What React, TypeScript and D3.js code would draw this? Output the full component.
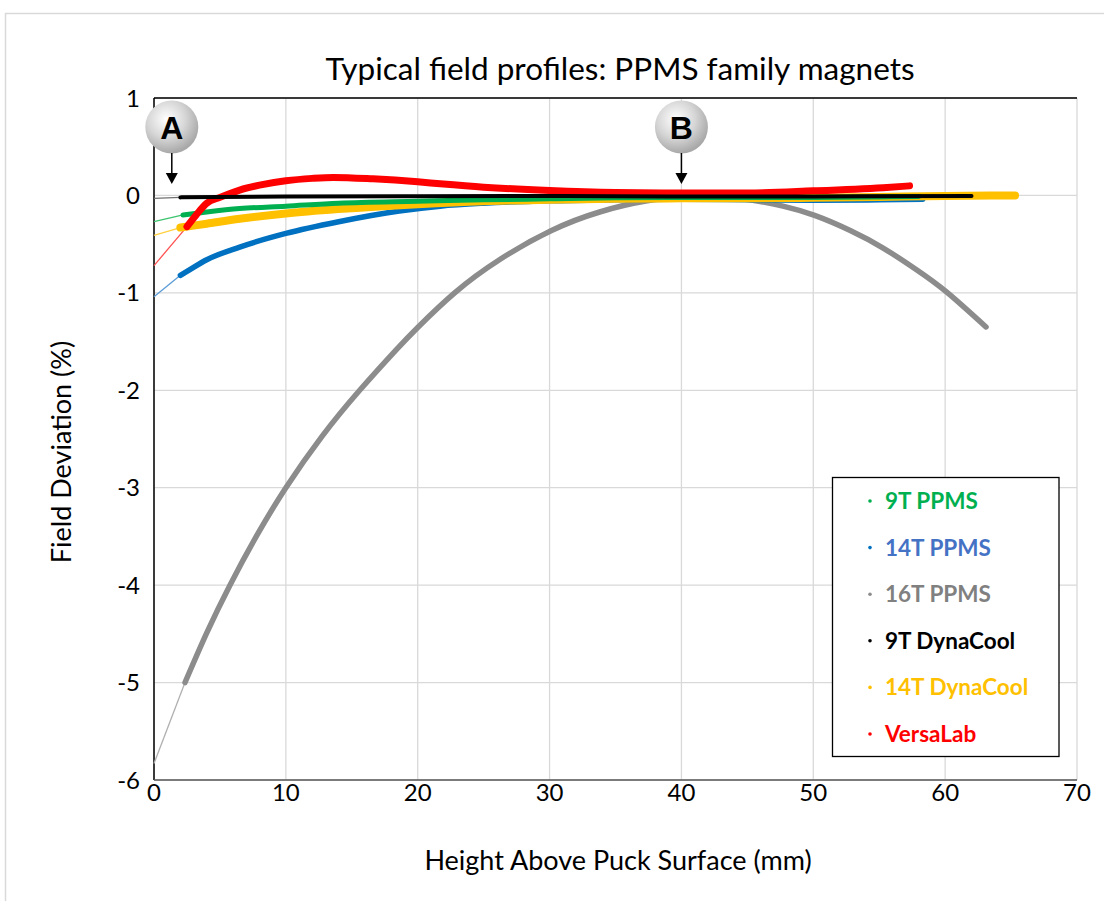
import React from "react";
import * as d3 from "d3";

// ---------- data ----------
const xTicks = [0, 10, 20, 30, 40, 50, 60, 70];
const yTicks = [1, 0, -1, -2, -3, -4, -5, -6];

const seriesNames = ["9T PPMS", "14T PPMS", "16T PPMS", "9T DynaCool", "14T DynaCool", "VersaLab"];

const x9TPPMS = [2.2, 4, 6.5, 10, 14, 20, 25, 30, 35, 40, 45, 50, 55, 58];
const y9TPPMS = [-0.2, -0.17, -0.135, -0.11, -0.08, -0.06, -0.045, -0.035, -0.025, -0.02, -0.02, -0.02, -0.015, -0.01];
const x14TPPMS = [2.0, 2.5, 4, 6.5, 10, 14, 18.6, 21.7, 25, 30, 35, 40, 45, 50, 55, 58.3];
const y14TPPMS = [-0.82, -0.78, -0.66, -0.53, -0.39, -0.27, -0.16, -0.11, -0.08, -0.055, -0.045, -0.04, -0.045, -0.05, -0.045, -0.04];
const x16TPPMS = [2.35, 4.0, 5.76, 7.8, 10, 12.7, 15.6, 18.4, 20, 22.8, 26.2, 30.15, 33.8, 37.3, 40, 42.5, 45.2, 47.7, 50.1, 52.8, 55.3, 57.8, 60.1, 63.1];
const y16TPPMS = [-5.0, -4.49, -4.0, -3.49, -3.0, -2.48, -2.0, -1.58, -1.355, -1.0, -0.66, -0.36, -0.17, -0.058, -0.02, -0.01, -0.045, -0.11, -0.205, -0.36, -0.54, -0.76, -0.99, -1.35];
const x9TDyna = [2, 10, 20, 30, 40, 50, 62];
const y9TDyna = [-0.02, -0.012, -0.008, -0.005, -0.01, -0.01, -0.005];
const x14TDyna = [2, 4, 6.5, 10, 14, 20, 25, 30, 35, 40, 45, 50, 55, 60, 65.3];
const y14TDyna = [-0.33, -0.29, -0.24, -0.185, -0.14, -0.09, -0.06, -0.045, -0.035, -0.03, -0.03, -0.025, -0.015, -0.005, 0.0];
const xVersa = [2.5, 3.2, 4, 5, 6.5, 8, 10, 12, 13.6, 16.6, 20, 21.7, 25, 30, 35, 40, 45, 50, 55.3, 57.3];
const yVersa = [-0.32, -0.2, -0.08, -0.02, 0.055, 0.105, 0.15, 0.175, 0.185, 0.17, 0.14, 0.12, 0.085, 0.05, 0.03, 0.025, 0.025, 0.047, 0.08, 0.098];

// trendline value at x = 0 for each series (same order as seriesNames)
const trendAtZero = [-0.27, -1.04, -5.83, -0.03, -0.41, -0.72];

const markerLabels = ["A", "B"];
const markerX = [1.35, 40];

// ---------- styling ----------
const lineColors = ["#00B050", "#0070C0", "#8C8C8C", "#000000", "#FFC000", "#FF0000"];
const trendColors = ["#3CC46E", "#5B9BD5", "#B0B0B0", "#707070", "#FFD040", "#FF5050"];
const legendColors = ["#00B050", "#4472C4", "#808080", "#000000", "#FFC000", "#FF0000"];
const lineWidths = [5, 5.5, 5.5, 4, 8, 7];
const drawOrder = [2, 1, 4, 0, 5, 3];

const FONT = "Lato, 'Open Sans', sans-serif";

export default function App() {
  const left = 154, right = 1077, top = 98, bottom = 780;
  const x = d3.scaleLinear().domain([0, 70]).range([left, right]);
  const y = d3.scaleLinear().domain([-6, 1]).range([bottom, top]);

  const xsAll = [x9TPPMS, x14TPPMS, x16TPPMS, x9TDyna, x14TDyna, xVersa];
  const ysAll = [y9TPPMS, y14TPPMS, y16TPPMS, y9TDyna, y14TDyna, yVersa];

  const monoLine = d3
    .line<[number, number]>()
    .x((d) => x(d[0]))
    .y((d) => y(d[1]))
    .curve(d3.curveMonotoneX);

  const naturalLine = d3
    .line<[number, number]>()
    .x((d) => x(d[0]))
    .y((d) => y(d[1]))
    .curve(d3.curveNatural);

  const thinLine = d3
    .line<[number, number]>()
    .x((d) => x(d[0]))
    .y((d) => y(d[1]));

  const legendRowY = (i: number) => 501 + i * 46.6;

  return (
    <svg
      width={1104}
      height={901}
      style={{ position: "absolute", left: 0, top: 0, background: "#fff" }}
      fontFamily={FONT}
    >
      <defs>
        <radialGradient id="bubble" cx="40%" cy="35%" r="65%">
          <stop offset="0%" stopColor="#ffffff" />
          <stop offset="55%" stopColor="#d6d6d6" />
          <stop offset="100%" stopColor="#a8a8a8" />
        </radialGradient>
      </defs>
      {/* outer chart border */}
      <rect x={5.5} y={13.5} width={1110} height={900} fill="#fff" stroke="#d9d9d9" strokeWidth={1.5} />

      {/* title */}
      <text x={620} y={80} textAnchor="middle" fontSize={31.5} fill="#000">
        Typical field profiles: PPMS family magnets
      </text>

      {/* gridlines */}
      {xTicks.map((t) => (
        <line key={"gx" + t} x1={x(t)} x2={x(t)} y1={top} y2={bottom} stroke="#d9d9d9" strokeWidth={1.3} />
      ))}
      {yTicks.map((t) => (
        <line key={"gy" + t} x1={left} x2={right} y1={y(t)} y2={y(t)} stroke="#d9d9d9" strokeWidth={1.3} />
      ))}

      {/* plot frame */}
      <line x1={left} x2={right} y1={top} y2={top} stroke="#000" strokeWidth={1.5} />
      <line x1={left} x2={left} y1={top} y2={bottom} stroke="#000" strokeWidth={1.5} />
      <line x1={left} x2={right} y1={bottom} y2={bottom} stroke="#595959" strokeWidth={1.5} />

      {/* tick labels */}
      {xTicks.map((t) => (
        <text key={"tx" + t} x={x(t)} y={801} textAnchor="middle" fontSize={24} fill="#000">
          {t}
        </text>
      ))}
      {yTicks.map((t) => (
        <text key={"ty" + t} x={140} y={y(t) + 8.5} textAnchor="end" fontSize={24} fill="#000">
          {t}
        </text>
      ))}

      {/* axis titles */}
      <text x={618} y={870} textAnchor="middle" fontSize={27} fill="#000">
        Height Above Puck Surface (mm)
      </text>
      <text transform="translate(71,452) rotate(-90)" textAnchor="middle" fontSize={27} fill="#000">
        Field Deviation (%)
      </text>

      {/* trendline extensions to x = 0 */}
      {drawOrder.map((i) => (
        <path
          key={"trend" + i}
          d={thinLine([
            [0, trendAtZero[i]],
            [xsAll[i][0], ysAll[i][0]],
          ]) || ""}
          fill="none"
          stroke={trendColors[i]}
          strokeWidth={1.3}
        />
      ))}

      {/* measured data */}
      {drawOrder.map((i) => {
        const pts: [number, number][] = xsAll[i].map((v, k) => [v, ysAll[i][k]]);
        const gen = i === 2 ? naturalLine : monoLine;
        return (
          <path
            key={"s" + i}
            d={gen(pts) || ""}
            fill="none"
            stroke={lineColors[i]}
            strokeWidth={lineWidths[i]}
            strokeLinecap="round"
            strokeLinejoin="round"
          />
        );
      })}

      {/* markers A and B */}
      {markerLabels.map((lab, i) => {
        const cx = x(markerX[i]);
        const cy = 127;
        return (
          <g key={"m" + lab}>
            <circle cx={cx} cy={cy} r={26.5} fill="url(#bubble)" />
            <text
              x={cx}
              y={cy + 11.5}
              textAnchor="middle"
              fontSize={32}
              fontWeight="bold"
              fontFamily="'Liberation Sans', Arial, sans-serif"
              fill="#000"
            >
              {lab}
            </text>
            <line x1={cx} x2={cx} y1={cy + 26} y2={cy + 47} stroke="#000" strokeWidth={1.5} />
            <path d={`M${cx - 6},${cy + 46} L${cx + 6},${cy + 46} L${cx},${cy + 57} Z`} fill="#000" />
          </g>
        );
      })}

      {/* legend */}
      <rect x={832.5} y={477.5} width={226.5} height={279} fill="#fff" stroke="#000" strokeWidth={1.3} />
      {seriesNames.map((n, i) => (
        <g key={"lg" + n}>
          <circle cx={870} cy={legendRowY(i)} r={1.8} fill={lineColors[i]} />
          <text x={885} y={legendRowY(i) + 8} fontSize={22.5} fontWeight="bold" fill={legendColors[i]}>
            {n}
          </text>
        </g>
      ))}
    </svg>
  );
}
